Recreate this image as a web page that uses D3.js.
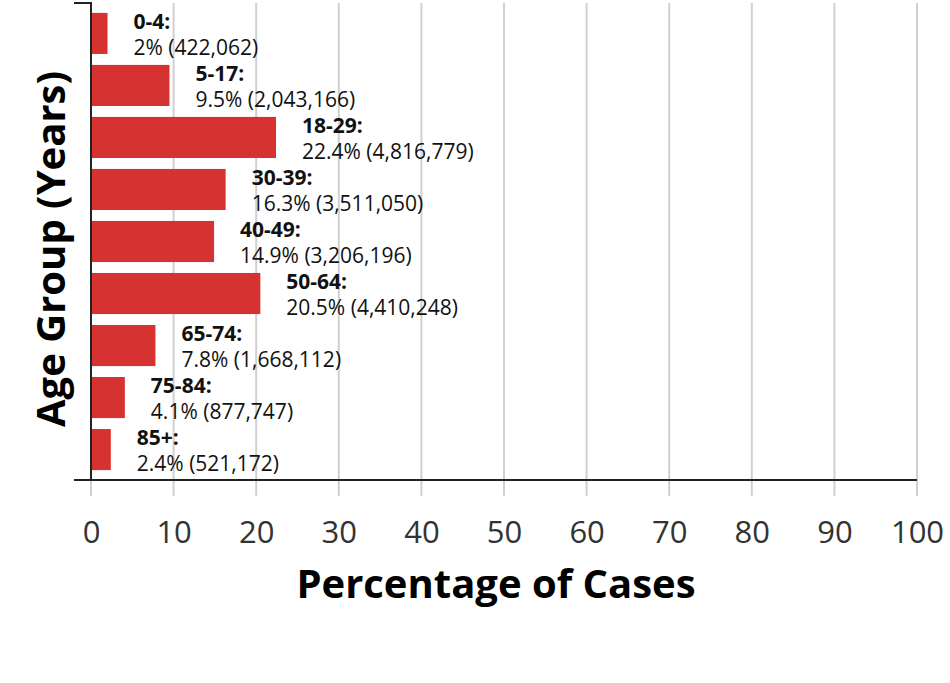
<!DOCTYPE html>
<html>
<head>
<meta charset="utf-8">
<script src="https://cdn.jsdelivr.net/npm/d3@7"></script>
<style>
  body { margin: 0; background: #fff; }
  svg { font-family: "Open Sans", sans-serif; }
</style>
</head>
<body>
<div id="chart"></div>
<script>
// data
const groups = ["0-4", "5-17", "18-29", "30-39", "40-49", "50-64", "65-74", "75-84", "85+"];
const percents = [2, 9.5, 22.4, 16.3, 14.9, 20.5, 7.8, 4.1, 2.4];
const counts = [422062, 2043166, 4816779, 3511050, 3206196, 4410248, 1668112, 877747, 521172];
const xTicks = [0, 10, 20, 30, 40, 50, 60, 70, 80, 90, 100];

const width = 950, height = 683;
const margin = {top: 3, right: 33, bottom: 203, left: 91};
const w = width - margin.left - margin.right,
      h = height - margin.top - margin.bottom;

const svg = d3.select("#chart").append("svg")
  .attr("width", width)
  .attr("height", height);

const g = svg.append("g")
  .attr("transform", "translate(" + margin.left + "," + margin.top + ")");

const x = d3.scaleLinear().domain([0, 100]).range([0, w]);
const y = d3.scaleBand().domain(groups).range([0, h]).paddingInner(0.21).paddingOuter(0.19);

// vertical grid lines
g.append("g")
  .selectAll("line")
  .data(xTicks)
  .join("line")
  .attr("x1", d => x(d)).attr("x2", d => x(d))
  .attr("y1", 0).attr("y2", h + 16)
  .attr("stroke", "#d0d0d0")
  .attr("stroke-width", 2);

// bars
const rows = groups.map((k, i) => ({group: k, pct: percents[i], n: counts[i]}));

g.selectAll("rect.bar")
  .data(rows)
  .join("rect")
  .attr("class", "bar")
  .attr("x", 0)
  .attr("y", d => y(d.group))
  .attr("width", d => x(d.pct))
  .attr("height", y.bandwidth())
  .attr("fill", "#d63232");

const lbl = g.selectAll("text.lbl")
  .data(rows)
  .join("text")
  .attr("class", "lbl")
  .attr("x", d => x(d.pct) + 26)
  .attr("y", d => y(d.group))
  .attr("font-size", 21)
  .attr("fill", "#111");

lbl.append("tspan")
  .attr("font-weight", "bold")
  .attr("dy", 16)
  .text(d => d.group + ":");

lbl.append("tspan")
  .attr("x", d => x(d.pct) + 26)
  .attr("dy", 26)
  .text(d => d.pct + "% (" + d3.format(",")(d.n) + ")");

// axes
const xAxis = d3.axisBottom(x).tickValues(xTicks).tickSize(0).tickPadding(41);
const gx = g.append("g").attr("transform", "translate(0," + h + ")").call(xAxis);
gx.select(".domain").remove();
gx.selectAll("text")
  .attr("font-family", "Open Sans, sans-serif")
  .attr("font-size", 31)
  .attr("fill", "#333");

// x axis line, with the y axis outer tick to the left
g.append("line")
  .attr("x1", -17).attr("x2", w)
  .attr("y1", h).attr("y2", h)
  .attr("stroke", "#222").attr("stroke-width", 2);

// y axis line with top outer tick
g.append("path")
  .attr("d", "M-17,0H0V" + h)
  .attr("fill", "none")
  .attr("stroke", "#222").attr("stroke-width", 2);

// titles
svg.append("text")
  .attr("x", 496)
  .attr("y", 598)
  .attr("text-anchor", "middle")
  .attr("font-weight", "bold")
  .attr("font-size", 40)
  .attr("fill", "#000")
  .text("Percentage of Cases");

svg.append("text")
  .attr("transform", "translate(65," + 249 + ") rotate(-90)")
  .attr("text-anchor", "middle")
  .attr("font-weight", "bold")
  .attr("font-size", 40)
  .attr("fill", "#000")
  .text("Age Group (Years)");
</script>
</body>
</html>
